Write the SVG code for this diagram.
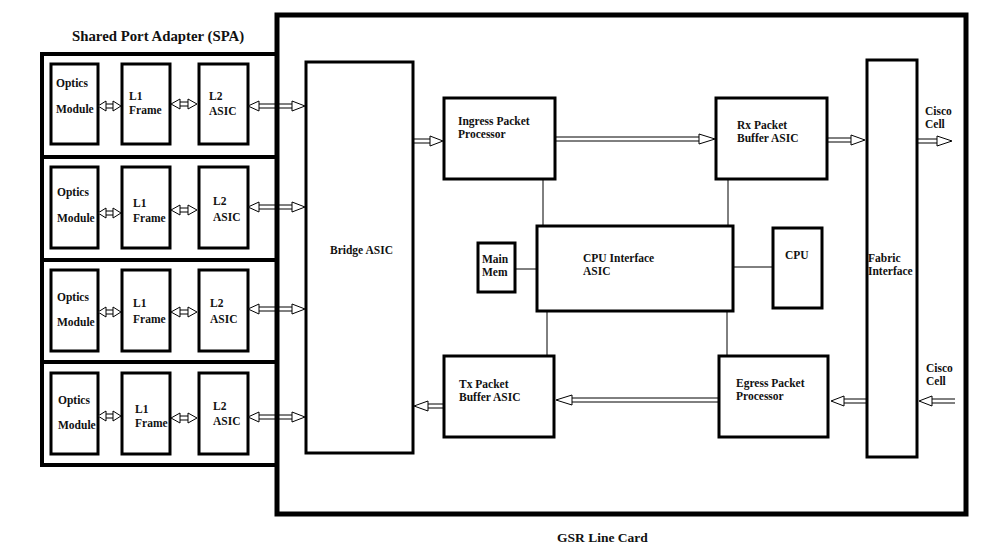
<svg xmlns="http://www.w3.org/2000/svg" width="998" height="554" viewBox="0 0 998 554">
<style>
text{font-family:"Liberation Serif","Times New Roman","DejaVu Serif",serif;font-weight:bold;font-size:11.5px;fill:#111}
.title{font-size:14.8px}
.big{font-size:13.5px}
.box{fill:#fff;stroke:#000;stroke-width:3}
.thick{fill:none;stroke:#000;stroke-width:5}
.spa{fill:none;stroke:#000;stroke-width:4}
.ln{stroke:#000;stroke-width:1;fill:none}
.arr{fill:#fff;stroke:#000;stroke-width:1;stroke-linejoin:miter}
</style>
<rect width="998" height="554" fill="#fff"/>

<g id="gsr-line-card">
<rect class="thick" x="277" y="15" width="689" height="499"/>
<text class="big" x="557" y="542">GSR Line Card</text>
</g>

<g id="spa">
<text class="title" x="72" y="41">Shared Port Adapter (SPA)</text>
<rect class="spa" x="42" y="54" width="235" height="103"/>
<rect class="spa" x="42" y="157" width="235" height="103"/>
<rect class="spa" x="42" y="260" width="235" height="102"/>
<rect class="spa" x="42" y="362" width="235" height="103"/>
</g>

<g id="spa-row1">
<rect class="box" x="51" y="64" width="47" height="80"/>
<text x="56" y="87">Optics</text><text x="56" y="113">Module</text>
<rect class="box" x="122" y="64" width="48" height="80"/>
<text x="129" y="100">L1</text><text x="129" y="114">Frame</text>
<rect class="box" x="199" y="64" width="49" height="80"/>
<text x="209" y="100">L2</text><text x="209" y="115">ASIC</text>
</g>
<g id="spa-row2">
<rect class="box" x="51" y="167" width="47" height="81"/>
<text x="57" y="196">Optics</text><text x="57" y="222">Module</text>
<rect class="box" x="122" y="167" width="48" height="81"/>
<text x="133" y="207">L1</text><text x="133" y="222">Frame</text>
<rect class="box" x="199" y="167" width="49" height="81"/>
<text x="213" y="205">L2</text><text x="213" y="221">ASIC</text>
</g>
<g id="spa-row3">
<rect class="box" x="51" y="270" width="47" height="81"/>
<text x="57" y="301">Optics</text><text x="57" y="326">Module</text>
<rect class="box" x="122" y="270" width="48" height="81"/>
<text x="133" y="307">L1</text><text x="133" y="323">Frame</text>
<rect class="box" x="199" y="270" width="49" height="81"/>
<text x="210" y="307">L2</text><text x="210" y="323">ASIC</text>
</g>
<g id="spa-row4">
<rect class="box" x="51" y="373" width="47" height="81"/>
<text x="58" y="404">Optics</text><text x="58" y="429">Module</text>
<rect class="box" x="122" y="373" width="48" height="81"/>
<text x="135" y="413">L1</text><text x="135" y="427">Frame</text>
<rect class="box" x="199" y="373" width="49" height="81"/>
<text x="213" y="410">L2</text><text x="213" y="425">ASIC</text>
</g>

<g id="bridge-asic">
<rect class="box" x="306" y="62" width="107" height="391"/>
<text x="330" y="254">Bridge ASIC</text>
</g>
<g id="ingress">
<rect class="box" x="444" y="98" width="111" height="81"/>
<text x="458" y="125">Ingress Packet</text><text x="458" y="138">Processor</text>
</g>
<g id="rx-buffer">
<rect class="box" x="716" y="98" width="111" height="81"/>
<text x="737" y="129">Rx Packet</text><text x="737" y="142">Buffer ASIC</text>
</g>
<g id="cpu-interface">
<rect class="box" x="537" y="226" width="196" height="85"/>
<text x="583" y="262">CPU Interface</text><text x="583" y="275">ASIC</text>
</g>
<g id="main-mem">
<rect class="box" x="478" y="243" width="37" height="49"/>
<text x="482" y="263">Main</text><text x="482" y="276">Mem</text>
</g>
<g id="cpu">
<rect class="box" x="773" y="228" width="49" height="80"/>
<text x="785" y="259">CPU</text>
</g>
<g id="tx-buffer">
<rect class="box" x="444" y="356" width="110" height="81"/>
<text x="459" y="388">Tx Packet</text><text x="459" y="401">Buffer ASIC</text>
</g>
<g id="egress">
<rect class="box" x="719" y="356" width="109" height="81"/>
<text x="736" y="387">Egress Packet</text><text x="736" y="400">Processor</text>
</g>
<g id="fabric">
<rect class="box" x="867" y="60" width="50" height="397"/>
<text x="868" y="262">Fabric</text><text x="868" y="275">Interface</text>
</g>
<g id="cisco-cell-labels">
<text x="925" y="115">Cisco</text><text x="925" y="128">Cell</text>
<text x="926" y="372">Cisco</text><text x="926" y="385">Cell</text>
</g>

<g id="connectors">
<path class="ln" d="M543,179V226M728,179V226M547,311V356M727,311V356M515,269H537M733,267H773"/>
<path class="arr" d="M106,104H113M106,108H113M98,106L106,101V111ZM121,106L113,101V111Z"/>
<path class="arr" d="M180,102H188M180,106H188M171,104L180,99V109ZM197,104L188,99V109Z"/>
<path class="arr" d="M259,104H292M259,108H292M248,106L259,101V111ZM305,106L292,101V111Z"/>
<path class="arr" d="M106,211H113M106,215H113M98,213L106,208V218ZM121,213L113,208V218Z"/>
<path class="arr" d="M180,208H188M180,212H188M171,210L180,205V215ZM197,210L188,205V215Z"/>
<path class="arr" d="M259,205H292M259,209H292M248,207L259,202V212ZM305,207L292,202V212Z"/>
<path class="arr" d="M106,310H113M106,314H113M98,312L106,307V317ZM121,312L113,307V317Z"/>
<path class="arr" d="M180,310H188M180,314H188M171,312L180,307V317ZM197,312L188,307V317Z"/>
<path class="arr" d="M259,307H292M259,311H292M248,309L259,304V314ZM305,309L292,304V314Z"/>
<path class="arr" d="M106,414H113M106,418H113M98,416L106,411V421ZM121,416L113,411V421Z"/>
<path class="arr" d="M180,416H188M180,420H188M171,418L180,413V423ZM197,418L188,413V423Z"/>
<path class="arr" d="M259,415H292M259,419H292M248,417L259,412V422ZM305,417L292,412V422Z"/>
<path class="arr" d="M413,139H430M413,143H430M443,141L430,136V146Z"/>
<path class="arr" d="M555,137H699M555,141H699M715,139L699,134V144Z"/>
<path class="arr" d="M827,138H851M827,142H851M865,140L851,135V145Z"/>
<path class="arr" d="M918,139H937M918,143H937M952,141L937,136V146Z"/>
<path class="arr" d="M955,399H932M955,403H932M919,401L932,396V406Z"/>
<path class="arr" d="M866,399H844M866,403H844M831,401L844,396V406Z"/>
<path class="arr" d="M719,398H572M719,402H572M556,400L572,395V405Z"/>
<path class="arr" d="M444,404H428M444,408H428M414,406L428,401V411Z"/>
</g>
</svg>
